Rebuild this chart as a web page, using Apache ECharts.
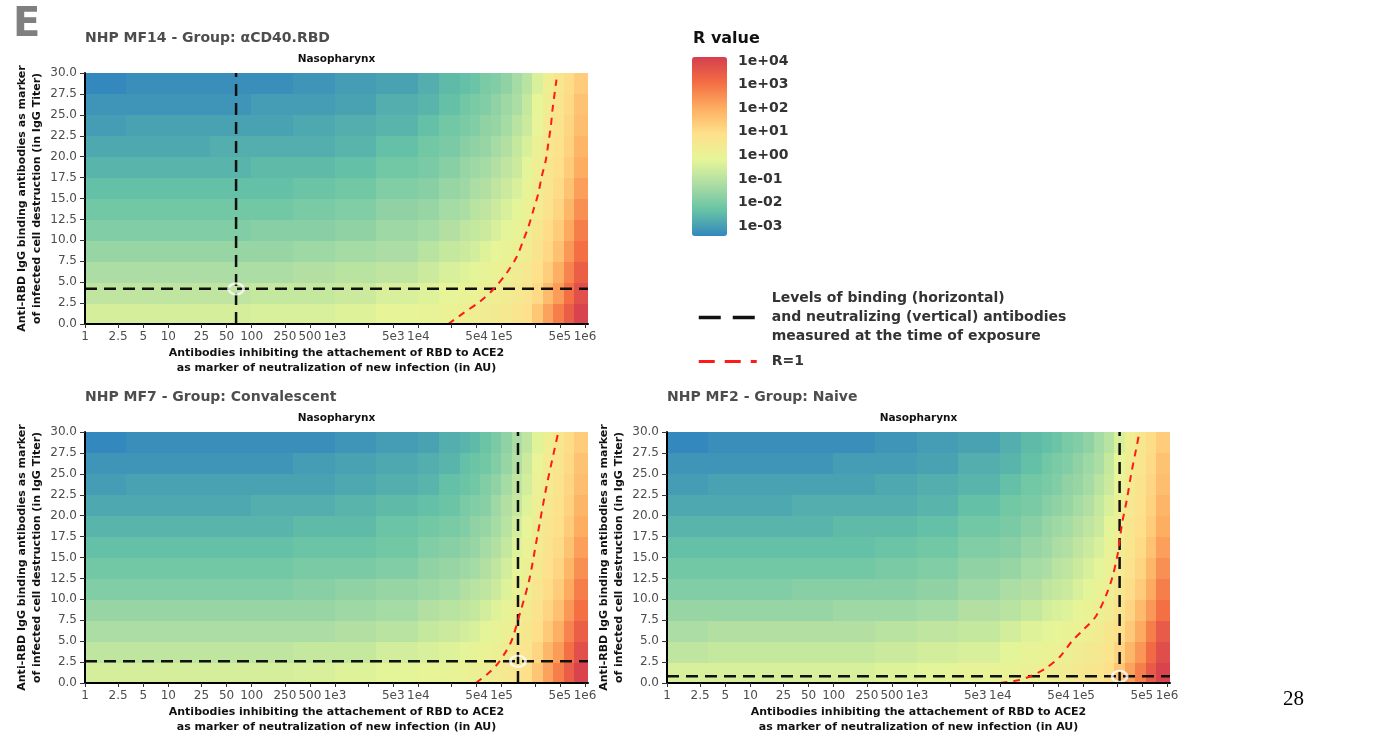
<!DOCTYPE html>
<html><head><meta charset="utf-8">
<script src="https://cdn.jsdelivr.net/npm/echarts@6.0.0/dist/echarts.min.js"></script>
<style>html,body{margin:0;padding:0;background:#fff;}#chart{width:1392px;height:742px;}</style>
</head><body><div id="chart"></div>
<script>
// ---------------- data ----------------
const panelTitles = ['NHP MF14 - Group: \u03b1CD40.RBD', 'NHP MF7 - Group: Convalescent', 'NHP MF2 - Group: Naive'];
const facetLabel = 'Nasopharynx';
const xAxisTitle = 'Antibodies inhibiting the attachement of RBD to ACE2\nas marker of neutralization of new infection (in AU)';
const yAxisTitle = 'Anti-RBD IgG binding antibodies as marker\nof infected cell destruction (in IgG Titer)';

const xTickValues = [1, 2.5, 5, 10, 25, 50, 100, 250, 500, 1e3, 2.5e3, 5e3, 1e4, 2.5e4, 5e4, 1e5, 2.5e5, 5e5, 1e6];
const xTickLabels = ['1','2.5','5','10','25','50','100','250','500','1e3','','5e3','1e4','','5e4','1e5','','5e5','1e6'];
const yMin = 0, yMax = 30, yStep = 2.5;

const colorbarTicks = [4, 3, 2, 1, 0, -1, -2, -3];
const colorbarLabels = ['1e+04','1e+03','1e+02','1e+01','1e+00','1e-01','1e-02','1e-03'];
const logRMin = -3.42, logRMax = 4.17;

// heat-map bins: x bin edges as log10 of AU, y bin edges in IgG titer
const xBinExp = [0,0.5,1,1.5,2,2.5,3,3.5,4,4.25,4.5,4.625,4.75,4.875,5,5.125,5.25,5.375,5.5,5.625,5.75,5.875,6.036];
const yBinEdges = [0,2.5,5,7.5,10,12.5,15,17.5,20,22.5,25,27.5,30];

// log10(R) per cell, rows from bottom (y 0-2.5) to top (y 27.5-30)
const logR_MF14 = [
 [-0.5,-0.5,-0.5,-0.5,-0.43,-0.43,-0.31,-0.12,-0.07,0.05,0.16,0.22,0.28,0.39,0.5,0.68,0.85,1.45,2.2,2.8,3.45,4.05],
 [-0.88,-0.88,-0.88,-0.88,-0.77,-0.77,-0.66,-0.43,-0.31,-0.12,0.0,0.05,0.11,0.22,0.33,0.45,0.68,1.05,1.7,2.3,3.05,3.75],
 [-1.23,-1.23,-1.23,-1.23,-1.23,-1.11,-1.0,-0.88,-0.66,-0.43,-0.31,-0.2,-0.07,0.05,0.16,0.28,0.5,0.88,1.3,1.95,2.7,3.4],
 [-1.57,-1.57,-1.57,-1.57,-1.57,-1.46,-1.34,-1.23,-1.0,-0.77,-0.66,-0.54,-0.31,-0.12,0.0,0.11,0.33,0.7,1.1,1.6,2.35,3.05],
 [-1.91,-1.91,-1.91,-1.91,-1.8,-1.8,-1.68,-1.46,-1.34,-1.11,-0.88,-0.77,-0.66,-0.43,-0.2,-0.07,0.16,0.55,0.98,1.35,2.05,2.8],
 [-2.14,-2.14,-2.14,-2.14,-2.14,-2.03,-1.91,-1.68,-1.57,-1.34,-1.23,-1.0,-0.88,-0.66,-0.43,-0.2,0.05,0.42,0.8,1.15,1.8,2.5],
 [-2.37,-2.37,-2.37,-2.37,-2.37,-2.26,-2.14,-1.91,-1.8,-1.57,-1.46,-1.23,-1.11,-0.88,-0.66,-0.43,-0.07,0.3,0.68,1.02,1.55,2.25],
 [-2.6,-2.6,-2.6,-2.6,-2.48,-2.48,-2.37,-2.14,-2.03,-1.8,-1.57,-1.46,-1.34,-1.11,-0.88,-0.66,-0.2,0.2,0.56,0.9,1.35,2.0],
 [-2.83,-2.83,-2.83,-2.71,-2.71,-2.71,-2.6,-2.37,-2.14,-2.03,-1.8,-1.68,-1.57,-1.34,-1.11,-0.77,-0.43,0.08,0.5,0.82,1.22,1.85],
 [-3.05,-2.94,-2.94,-2.94,-2.94,-2.83,-2.71,-2.6,-2.37,-2.14,-2.03,-1.91,-1.68,-1.57,-1.34,-1.0,-0.66,-0.05,0.4,0.74,1.15,1.65],
 [-3.17,-3.17,-3.17,-3.17,-3.05,-3.05,-2.94,-2.71,-2.6,-2.37,-2.14,-2.03,-1.91,-1.68,-1.46,-1.23,-0.77,-0.16,0.3,0.68,1.05,1.55],
 [-3.4,-3.28,-3.28,-3.28,-3.28,-3.17,-3.05,-2.94,-2.71,-2.48,-2.37,-2.26,-2.03,-1.91,-1.68,-1.34,-1.0,-0.4,0.22,0.57,0.98,1.35]
];
const logR_MF7 = [
 [-0.5,-0.5,-0.5,-0.5,-0.5,-0.43,-0.31,-0.2,-0.12,-0.07,0.05,0.11,0.16,0.33,0.5,0.68,0.9,1.5,2.2,2.8,3.45,4.05],
 [-0.88,-0.88,-0.88,-0.88,-0.88,-0.77,-0.77,-0.54,-0.43,-0.31,-0.2,-0.07,0.0,0.11,0.28,0.5,0.73,1.15,1.8,2.3,3.05,3.75],
 [-1.23,-1.23,-1.23,-1.23,-1.23,-1.23,-1.11,-1.0,-0.77,-0.66,-0.54,-0.43,-0.2,-0.07,0.11,0.33,0.56,0.94,1.42,1.95,2.7,3.4],
 [-1.57,-1.57,-1.57,-1.57,-1.57,-1.57,-1.46,-1.34,-1.11,-1.0,-0.88,-0.77,-0.54,-0.31,-0.07,0.16,0.39,0.77,1.15,1.6,2.35,3.05],
 [-1.91,-1.91,-1.91,-1.91,-1.91,-1.8,-1.68,-1.57,-1.46,-1.34,-1.11,-1.0,-0.88,-0.66,-0.31,0.0,0.22,0.6,0.98,1.35,2.05,2.8],
 [-2.14,-2.14,-2.14,-2.14,-2.14,-2.03,-2.03,-1.91,-1.68,-1.57,-1.46,-1.34,-1.11,-0.88,-0.54,-0.12,0.11,0.48,0.86,1.15,1.8,2.5],
 [-2.37,-2.37,-2.37,-2.37,-2.37,-2.26,-2.26,-2.14,-1.91,-1.8,-1.68,-1.57,-1.34,-1.11,-0.77,-0.31,0.0,0.37,0.75,1.02,1.55,2.25],
 [-2.6,-2.6,-2.6,-2.6,-2.6,-2.48,-2.48,-2.26,-2.14,-2.03,-1.91,-1.68,-1.57,-1.34,-1.0,-0.54,-0.12,0.26,0.63,0.9,1.35,2.0],
 [-2.83,-2.83,-2.83,-2.83,-2.71,-2.71,-2.6,-2.48,-2.37,-2.26,-2.03,-1.91,-1.8,-1.46,-1.11,-0.77,-0.31,0.15,0.52,0.82,1.22,1.85],
 [-3.05,-2.94,-2.94,-2.94,-2.94,-2.94,-2.83,-2.71,-2.6,-2.37,-2.26,-2.14,-1.91,-1.68,-1.34,-0.88,-0.54,0.03,0.4,0.74,1.15,1.65],
 [-3.17,-3.17,-3.17,-3.17,-3.17,-3.05,-2.94,-2.83,-2.71,-2.6,-2.37,-2.26,-2.14,-1.91,-1.57,-1.11,-0.66,-0.05,0.35,0.68,1.05,1.55],
 [-3.4,-3.28,-3.28,-3.28,-3.28,-3.28,-3.17,-3.05,-2.94,-2.71,-2.6,-2.48,-2.26,-2.03,-1.68,-1.23,-0.88,-0.28,0.22,0.57,0.98,1.35]
];
const logR_MF2 = [
 [-0.43,-0.43,-0.43,-0.43,-0.43,-0.31,-0.2,-0.07,0.0,0.11,0.22,0.28,0.33,0.45,0.56,0.68,0.9,1.5,2.2,2.8,3.5,4.05],
 [-0.88,-0.77,-0.77,-0.77,-0.77,-0.66,-0.54,-0.43,-0.2,-0.07,0.0,0.05,0.16,0.28,0.39,0.5,0.73,1.15,1.8,2.4,3.15,3.8],
 [-1.23,-1.11,-1.11,-1.11,-1.11,-1.0,-0.88,-0.77,-0.54,-0.31,-0.2,-0.12,0.0,0.05,0.22,0.33,0.56,0.94,1.42,2.05,2.8,3.5],
 [-1.57,-1.57,-1.57,-1.57,-1.46,-1.46,-1.34,-1.11,-1.0,-0.77,-0.54,-0.43,-0.31,-0.12,0.0,0.11,0.33,0.7,1.15,1.7,2.35,3.05],
 [-1.91,-1.91,-1.91,-1.8,-1.8,-1.8,-1.68,-1.46,-1.23,-1.11,-0.88,-0.77,-0.66,-0.43,-0.2,0.0,0.16,0.55,0.98,1.35,2.05,2.8],
 [-2.14,-2.14,-2.14,-2.14,-2.14,-2.03,-1.91,-1.68,-1.57,-1.34,-1.23,-1.0,-0.88,-0.66,-0.43,-0.2,0.05,0.42,0.8,1.15,1.8,2.5],
 [-2.37,-2.37,-2.37,-2.37,-2.37,-2.26,-2.14,-1.91,-1.8,-1.57,-1.46,-1.23,-1.11,-0.88,-0.66,-0.43,-0.07,0.3,0.68,1.02,1.55,2.25],
 [-2.6,-2.6,-2.6,-2.6,-2.48,-2.48,-2.37,-2.14,-2.03,-1.8,-1.57,-1.46,-1.34,-1.11,-0.88,-0.66,-0.2,0.2,0.56,0.9,1.35,2.0],
 [-2.83,-2.83,-2.83,-2.71,-2.71,-2.71,-2.6,-2.37,-2.14,-2.03,-1.8,-1.68,-1.57,-1.34,-1.11,-0.77,-0.43,0.08,0.5,0.82,1.22,1.85],
 [-3.05,-2.94,-2.94,-2.94,-2.94,-2.83,-2.71,-2.6,-2.37,-2.14,-2.03,-1.91,-1.68,-1.57,-1.34,-1.0,-0.66,-0.05,0.4,0.74,1.15,1.65],
 [-3.17,-3.17,-3.17,-3.17,-3.05,-3.05,-2.94,-2.71,-2.6,-2.37,-2.14,-2.03,-1.91,-1.68,-1.46,-1.23,-0.77,-0.16,0.3,0.68,1.05,1.55],
 [-3.4,-3.28,-3.28,-3.28,-3.28,-3.17,-3.05,-2.94,-2.71,-2.48,-2.37,-2.26,-2.03,-1.91,-1.68,-1.34,-1.0,-0.4,0.22,0.57,0.98,1.35]
];

// R = 1 contour (x in AU, y in IgG titer)
const r1X_MF14 = [22900,34700,55000,79400,115000,151000,182000,209000,240000,275000,302000,339000,363000,389000,407000,455000];
const r1Y_MF14 = [0,1.3,2.7,4.15,6.1,8.0,10.0,11.6,13.6,15.6,17.6,19.6,21.6,23.6,25.6,29.2];
const r1X_MF7 = [49000,66100,87100,110000,132000,170000,214000,263000,339000,417000,479000];
const r1Y_MF7 = [0,1.0,2.15,3.6,5.1,8.7,12.3,17.1,23.1,27.3,30];
const r1X_MF2 = [10000,15800,23400,35500,52500,72400,100000,141000,186000,219000,257000,288000,331000,372000,427000,468000];
const r1Y_MF2 = [0,0.3,0.84,1.8,3.2,5.0,6.4,8.0,10.5,12.5,15.5,19,22,25,28,30];

// antibody levels at exposure (neutralizing AU, binding titer)
const neutralizingAU = [65, 157000, 270000];
const bindingTiter = [4.2, 2.6, 0.8];

// region annotations (x in AU, y in titer)
const rLowLabel = {text: 'R<1', x: 12.3, y: 28};
const rHighLabel = {text: 'R>1', x: 480000, y: 6.4};

// ---------------- chart ----------------
const FONT = 'DejaVu Sans';
const SPECTRAL8 = ['#3288BD','#66C2A5','#ABDDA4','#E6F598','#FEE08B','#FDAE61','#F46D43','#D53E4F'];
const XMAX = xBinExp[xBinExp.length - 1];
const LEG_BLACK = 'Levels of binding (horizontal)\nand neutralizing (vertical) antibodies\nmeasured at the time of exposure';
const LEG_RED = 'R=1';
const grids = [
  {left: 85, top: 73, width: 503, height: 251},
  {left: 85, top: 432, width: 503, height: 251},
  {left: 667, top: 432, width: 503, height: 251}
];
const xTickExp = xTickValues.map(v => Math.log10(v));
function xLabel(v) {
  let best = 0, d = 1e9;
  xTickExp.forEach((e, i) => { const dd = Math.abs(e - v); if (dd < d) { d = dd; best = i; } });
  return xTickLabels[best];
}
function cells(grid) {
  const out = [];
  grid.forEach((row, r) => row.forEach((L, c) => out.push([xBinExp[c], xBinExp[c + 1], yBinEdges[r], yBinEdges[r + 1], L])));
  return out;
}
function renderCell(params, api) {
  const a = api.coord([api.value(0), api.value(3)]);
  const b = api.coord([api.value(1), api.value(2)]);
  const x0 = Math.floor(a[0]), y0 = Math.floor(a[1]);
  return {type: 'rect', shape: {x: x0, y: y0, width: Math.ceil(b[0]) - x0, height: Math.ceil(b[1]) - y0},
          style: {fill: api.visual('color')}};
}
const heatGrids = [logR_MF14, logR_MF7, logR_MF2];
const contours = [[r1X_MF14, r1Y_MF14], [r1X_MF7, r1Y_MF7], [r1X_MF2, r1Y_MF2]];

const xAxes = grids.map((g, i) => ({
  type: 'value', gridIndex: i, min: 0, max: XMAX, z: 6,
  name: xAxisTitle, nameLocation: 'middle', nameGap: 22,
  nameTextStyle: {fontFamily: FONT, fontSize: 11, fontWeight: 'bold', color: '#111', lineHeight: 15},
  axisLine: {lineStyle: {color: '#000', width: 2}},
  axisTick: {show: true, length: 4, lineStyle: {color: '#333', width: 1}, customValues: xTickExp},
  axisLabel: {customValues: xTickExp, formatter: v => xLabel(v), fontFamily: FONT, fontSize: 12, color: '#4d4d4d', margin: 7},
  splitLine: {show: false}
}));
const yAxes = grids.map((g, i) => ({
  type: 'value', gridIndex: i, min: yMin, max: yMax, interval: yStep, z: 6,
  name: yAxisTitle, nameLocation: 'middle', nameGap: 40, nameRotate: 90,
  nameTextStyle: {fontFamily: FONT, fontSize: 11, fontWeight: 'bold', color: '#111', lineHeight: 15},
  axisLine: {lineStyle: {color: '#000', width: 2}},
  axisTick: {show: true, length: 5, lineStyle: {color: '#333', width: 1}},
  axisLabel: {formatter: v => v.toFixed(1), fontFamily: FONT, fontSize: 12, color: '#4d4d4d', margin: 8},
  splitLine: {show: false}
}));

const series = [];
heatGrids.forEach((hg, i) => series.push({
  type: 'custom', name: 'R ' + i, xAxisIndex: i, yAxisIndex: i, silent: true, z: 1,
  renderItem: renderCell, encode: {x: [0, 1], y: [2, 3]}, data: cells(hg)
}));
grids.forEach((g, i) => {
  const lx = Math.log10(neutralizingAU[i]), yb = bindingTiter[i];
  series.push({type: 'line', name: LEG_BLACK, xAxisIndex: i, yAxisIndex: i, symbol: 'none', silent: true, z: 3,
    lineStyle: {color: '#111', width: 2.5, type: [12, 7]}, data: [[0, yb], [XMAX, yb]]});
  series.push({type: 'line', name: LEG_BLACK, xAxisIndex: i, yAxisIndex: i, symbol: 'none', silent: true, z: 3,
    lineStyle: {color: '#111', width: 2.5, type: [12, 7]}, data: [[lx, yMin], [lx, yMax]]});
  const [cx, cy] = contours[i];
  series.push({type: 'line', name: LEG_RED, xAxisIndex: i, yAxisIndex: i, symbol: 'none', silent: true, z: 4, smooth: 0.3,
    lineStyle: {color: '#ff1a1a', width: 2, type: [7, 6]}, data: cx.map((v, k) => [Math.log10(v), cy[k]])});
  series.push({type: 'scatter', name: 'exposure ' + i, xAxisIndex: i, yAxisIndex: i, silent: true, z: 5,
    symbol: 'circle', symbolSize: [15, 11], itemStyle: {color: 'rgba(0,0,0,0)', borderColor: '#fff', borderWidth: 2.5},
    data: [[lx, yb]]});
  series.push({type: 'scatter', name: 'regions ' + i, xAxisIndex: i, yAxisIndex: i, silent: true, z: 6,
    symbolSize: 1, itemStyle: {opacity: 0},
    label: {show: true, position: 'inside', formatter: '{b}', fontFamily: FONT, fontSize: 11, color: '#ff0000',
      backgroundColor: '#fff', borderColor: '#ff4040', borderWidth: 1, borderRadius: 3, padding: [4, 5]},
    data: [rLowLabel, rHighLabel].map(l => ({name: l.text, value: [Math.log10(l.x), l.y]}))});
});

const titles = [];
grids.forEach((g, i) => {
  titles.push({text: panelTitles[i], left: g.left, top: g.top - 42, padding: 0,
    textStyle: {fontFamily: FONT, fontSize: 14, fontWeight: 'bold', color: '#4d4d4d'}});
  titles.push({text: facetLabel, left: g.left + g.width / 2, top: g.top - 19, textAlign: 'center', padding: 0,
    textStyle: {fontFamily: FONT, fontSize: 10.5, fontWeight: 'bold', color: '#111'}});
});

const CB = {left: 692, top: 57, width: 35, height: 179};
const graphics = [
  {type: 'text', left: 13, top: 6, style: {text: 'E', font: 'bold 40px "DejaVu Sans"', fill: '#7f7f7f'}},
  {type: 'text', left: 693, top: 31, style: {text: 'R value', font: 'bold 16px "DejaVu Sans"', fill: '#111'}},
  {type: 'text', left: 1283, top: 689, style: {text: '28', font: '21px "Liberation Serif"', fill: '#000'}}
];
colorbarTicks.forEach((t, i) => {
  const y = CB.top + (logRMax - t) / (logRMax - logRMin) * CB.height;
  graphics.push({type: 'text', x: 738, y: y, style: {text: colorbarLabels[i], font: 'bold 14px "DejaVu Sans"', fill: '#333', verticalAlign: 'middle'}});
  graphics.push({type: 'line', shape: {x1: CB.left, y1: y, x2: CB.left + 6, y2: y}, style: {stroke: 'rgba(255,255,255,0.8)', lineWidth: 1}});
  graphics.push({type: 'line', shape: {x1: CB.left + CB.width - 6, y1: y, x2: CB.left + CB.width, y2: y}, style: {stroke: 'rgba(255,255,255,0.8)', lineWidth: 1}});
});

const hiddenSymbol = {color: 'rgba(0,0,0,0)', borderColor: 'rgba(0,0,0,0)', borderWidth: 0, opacity: 0};
const chart = echarts.init(document.getElementById('chart'), null, {renderer: 'canvas'});
chart.setOption({
  animation: false,
  backgroundColor: '#fff',
  textStyle: {fontFamily: FONT},
  title: titles,
  grid: grids.map(g => Object.assign({containLabel: false}, g)),
  xAxis: xAxes,
  yAxis: yAxes,
  visualMap: {
    type: 'continuous', min: logRMin, max: logRMax, dimension: 4, seriesIndex: [0, 1, 2],
    inRange: {color: SPECTRAL8}, calculable: false, hoverLink: false, realtime: false,
    left: CB.left, top: CB.top, itemWidth: CB.width, itemHeight: CB.height, padding: 0, text: null, showLabel: false
  },
  legend: {
    left: 697, top: 289, orient: 'vertical', itemWidth: 58, itemHeight: 14, itemGap: 6, padding: 0, selectedMode: false,
    textStyle: {fontFamily: FONT, fontSize: 14, fontWeight: 'bold', color: '#333', lineHeight: 19, padding: [0, 0, 0, 10]},
    data: [
      {name: LEG_BLACK, itemStyle: hiddenSymbol, lineStyle: {color: '#111', width: 3.5, type: [22, 12]}},
      {name: LEG_RED, itemStyle: hiddenSymbol, lineStyle: {color: '#ff1a1a', width: 3, type: [16, 10]}}
    ]
  },
  graphic: graphics,
  series: series
});
</script></body></html>
